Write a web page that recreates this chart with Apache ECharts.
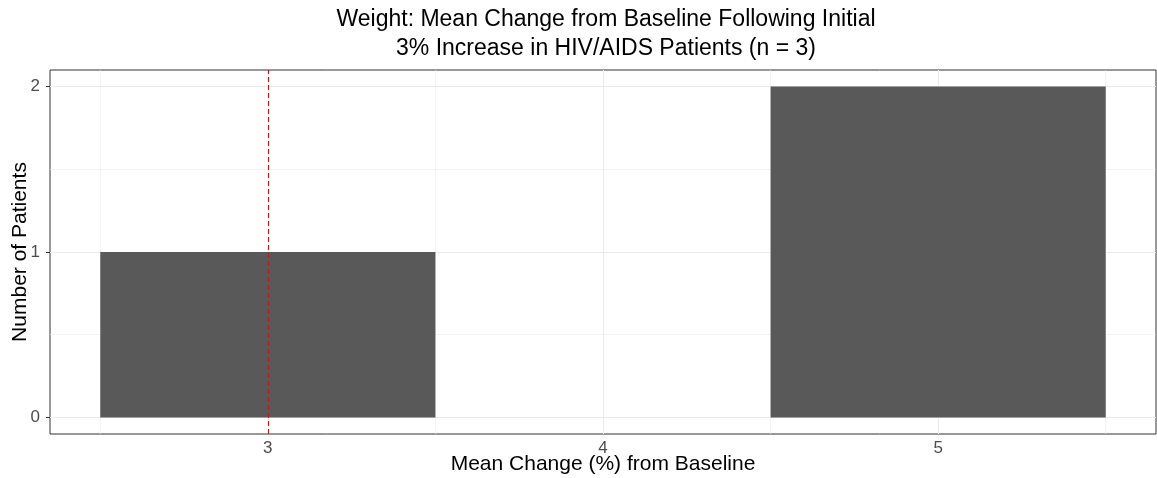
<!DOCTYPE html>
<html>
<head>
<meta charset="utf-8">
<script src="https://cdn.jsdelivr.net/npm/echarts@6/dist/echarts.min.js"></script>
<style>html,body{margin:0;padding:0;background:#fff}#c{width:1157px;height:478px}</style>
</head>
<body>
<div id="c"></div>
<script>
const titleText = 'Weight: Mean Change from Baseline Following Initial\n3% Increase in HIV/AIDS Patients (n = 3)';
const xName = 'Mean Change (%) from Baseline';
const yName = 'Number of Patients';
const binStart = [2.5, 3.5, 4.5];
const binEnd = [3.5, 4.5, 5.5];
const counts = [1, 0, 2];
const refLine = 3;
const xTicks = [3, 4, 5];
const xMinor = [2.5, 3.5, 4.5, 5.5];
const yTicks = [0, 1, 2];
const yMinor = [0.5, 1.5];
const xRange = [2.35, 5.65];
const yRange = [-0.1, 2.1];

const FONT = 'Liberation Sans';
const chart = echarts.init(document.getElementById('c'), null, {renderer: 'canvas'});

const gridData = [];
xTicks.forEach(v => gridData.push({xAxis: v, lineStyle: {width: 1.1}}));
xMinor.forEach(v => gridData.push({xAxis: v, lineStyle: {width: 0.6}}));
yTicks.forEach(v => gridData.push({yAxis: v, lineStyle: {width: 1.1}}));
yMinor.forEach(v => gridData.push({yAxis: v, lineStyle: {width: 0.6}}));

chart.setOption({
  animation: false,
  backgroundColor: '#fff',
  title: {
    text: titleText,
    left: 603, top: 2, padding: 3, textAlign: 'center',
    textStyle: {fontFamily: FONT, fontSize: 23, fontWeight: 'normal', color: '#000', lineHeight: 29}
  },
  grid: {left: 50, right: 1, top: 70, bottom: 44, show: true, borderColor: '#333', borderWidth: 1,
         containLabel: false, outerBoundsMode: 'none'},
  xAxis: {
    type: 'value', min: xRange[0], max: xRange[1],
    name: xName, nameLocation: 'middle', nameGap: 20, nameMoveOverlap: false,
    nameTextStyle: {fontFamily: FONT, fontSize: 21, color: '#000'},
    axisLine: {show: false},
    axisTick: {show: true, length: 4, lineStyle: {color: '#333'}, customValues: xTicks},
    axisLabel: {fontFamily: FONT, fontSize: 17, color: '#4d4d4d', margin: 6, customValues: xTicks},
    splitLine: {show: false}
  },
  yAxis: {
    type: 'value', min: yRange[0], max: yRange[1],
    name: yName, nameLocation: 'middle', nameGap: 19, nameMoveOverlap: false,
    nameTextStyle: {fontFamily: FONT, fontSize: 21, color: '#000'},
    axisLine: {show: false},
    axisTick: {show: true, length: 4, lineStyle: {color: '#333'}, customValues: yTicks},
    axisLabel: {fontFamily: FONT, fontSize: 17, color: '#4d4d4d', margin: 10, customValues: yTicks},
    splitLine: {show: false}
  },
  series: [
    {
      type: 'line', data: [], silent: true, z: 1,
      markLine: {
        silent: true, symbol: 'none', animation: false, z: 1,
        label: {show: false},
        lineStyle: {color: '#ebebeb', type: 'solid'},
        emphasis: {disabled: true},
        data: gridData
      }
    },
    {
      type: 'custom', z: 2, silent: true,
      data: binStart.map((s, i) => [s, binEnd[i], counts[i]]),
      renderItem: function (params, api) {
        const p0 = api.coord([api.value(0), api.value(2)]);
        const p1 = api.coord([api.value(1), 0]);
        return {
          type: 'rect',
          shape: {x: p0[0], y: p0[1], width: p1[0] - p0[0], height: p1[1] - p0[1]},
          style: {fill: '#595959'}
        };
      },
      encode: {x: [0, 1], y: 2}
    },
    {
      type: 'line', data: [], silent: true, z: 3,
      markLine: {
        silent: true, symbol: 'none', animation: false, z: 5,
        label: {show: false},
        lineStyle: {color: '#ff0000', type: [5, 3], width: 1.2, opacity: 1},
        emphasis: {disabled: true},
        data: [{xAxis: refLine, lineStyle: {color: '#ff0000', type: [5, 3], width: 1.2}}]
      }
    }
  ]
});
</script>
</body>
</html>
